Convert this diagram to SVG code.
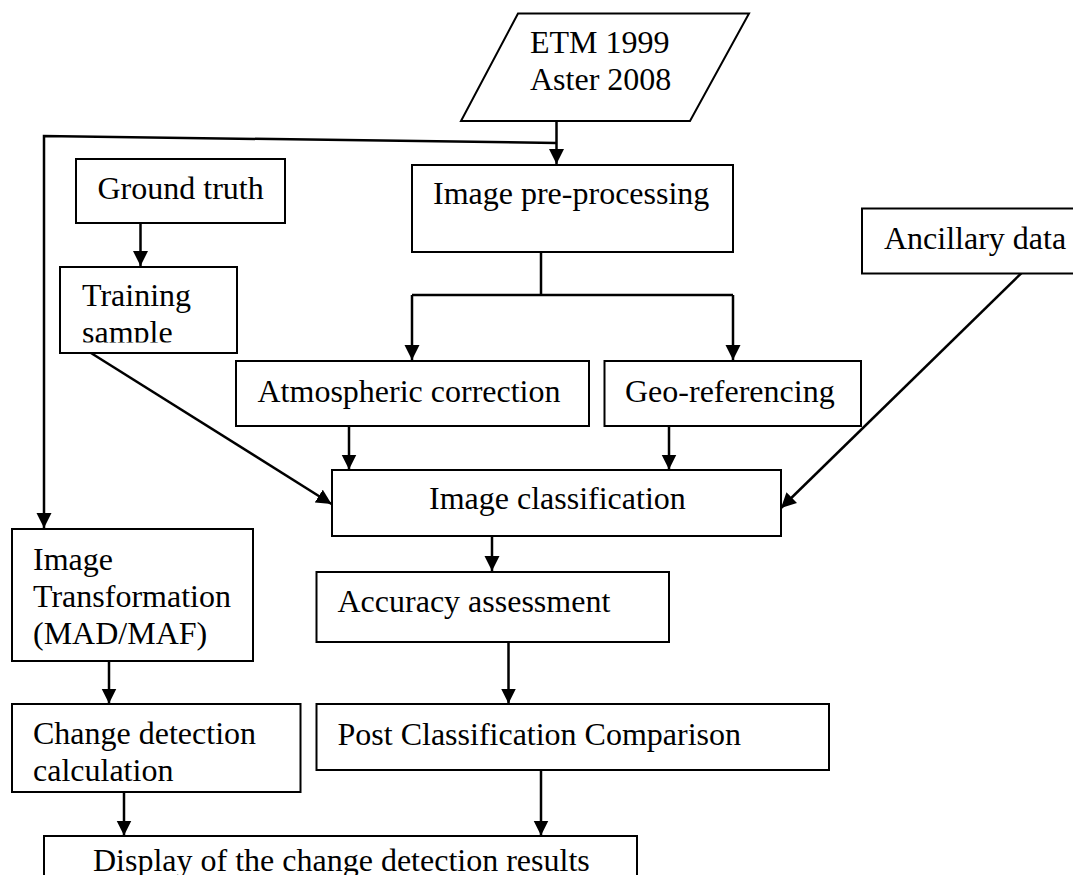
<svg xmlns="http://www.w3.org/2000/svg" width="1073" height="875" viewBox="0 0 1073 875">
<style>
.box{fill:#fff;stroke:#000;stroke-width:2}
.t{font-family:"Liberation Serif","Times New Roman",serif;font-size:32px;fill:#000}
.c{fill:none;stroke:#000;stroke-width:2.5}
</style>
<defs>
<marker id="ah" markerUnits="userSpaceOnUse" markerWidth="16" markerHeight="16" viewBox="0 0 16 16" refX="15" refY="8" orient="auto">
<path d="M0,0.5 L15,8 L0,15.5 Z" fill="#000"/>
</marker>
<clipPath id="tsclip"><rect x="61" y="268" width="175" height="74.5"/></clipPath>
</defs>
<rect width="1073" height="875" fill="#fff"/>
<g id="connectors">
<path class="c" d="M541,252 V295 M412,295 H733"/>
<path class="c" d="M556.5,121 V164" marker-end="url(#ah)"/>
<path class="c" d="M556.5,143 L44,136 V528" marker-end="url(#ah)"/>
<path class="c" d="M140.5,223 V266" marker-end="url(#ah)"/>
<path class="c" d="M412,295 V360" marker-end="url(#ah)"/>
<path class="c" d="M733,295 V360" marker-end="url(#ah)"/>
<path class="c" d="M349,426 V469.5" marker-end="url(#ah)"/>
<path class="c" d="M669,426 V469.5" marker-end="url(#ah)"/>
<path class="c" d="M91,353 L331.5,504" marker-end="url(#ah)"/>
<path class="c" d="M1021.5,273 L781,508" marker-end="url(#ah)"/>
<path class="c" d="M492,536 V571" marker-end="url(#ah)"/>
<path class="c" d="M508.5,635 V703.5" marker-end="url(#ah)"/>
<path class="c" d="M109,661 V703.5" marker-end="url(#ah)"/>
<path class="c" d="M124,792 V835.5" marker-end="url(#ah)"/>
<path class="c" d="M541,770 V835.5" marker-end="url(#ah)"/>
</g>
<g id="input">
<polygon class="box" points="518,13.5 749,13.5 690,121 461,121"/>
<text class="t" x="530" y="53">ETM 1999</text>
<text class="t" x="530" y="89.5">Aster 2008</text>
</g>
<g id="ground-truth">
<rect class="box" x="76" y="159" width="209" height="64"/>
<text class="t" x="97.5" y="199">Ground truth</text>
</g>
<g id="training-sample">
<rect class="box" x="60" y="267" width="177" height="86"/>
<g clip-path="url(#tsclip)">
<text class="t" x="82" y="306">Training</text>
<text class="t" x="82" y="343">sample</text>
</g>
</g>
<g id="pre-processing">
<rect class="box" x="412" y="165" width="321" height="87"/>
<text class="t" x="433" y="204">Image pre-processing</text>
</g>
<g id="ancillary">
<rect class="box" x="862" y="208.5" width="215" height="65"/>
<text class="t" x="884" y="249">Ancillary data</text>
</g>
<g id="atmospheric">
<rect class="box" x="236" y="361" width="353" height="65"/>
<text class="t" x="257.5" y="402">Atmospheric correction</text>
</g>
<g id="geo-referencing">
<rect class="box" x="604.5" y="361" width="256.5" height="65"/>
<text class="t" x="625" y="402">Geo-referencing</text>
</g>
<g id="classification">
<rect class="box" x="332" y="470" width="449" height="66"/>
<text class="t" x="429" y="509">Image classification</text>
</g>
<g id="accuracy">
<rect class="box" x="316.5" y="572" width="352.5" height="70"/>
<text class="t" x="337.5" y="612">Accuracy assessment</text>
</g>
<g id="post-classification">
<rect class="box" x="316.5" y="704" width="512.5" height="66"/>
<text class="t" x="337.5" y="744.5">Post Classification Comparison</text>
</g>
<g id="transformation">
<rect class="box" x="12" y="529" width="241" height="132"/>
<text class="t" x="33" y="569.5">Image</text>
<text class="t" x="33" y="606.5">Transformation</text>
<text class="t" x="33" y="643.5">(MAD/MAF)</text>
</g>
<g id="change-detection">
<rect class="box" x="12" y="704" width="288.5" height="88"/>
<text class="t" x="33" y="743.5">Change detection</text>
<text class="t" x="33" y="781">calculation</text>
</g>
<g id="display">
<rect class="box" x="44" y="836" width="593" height="60"/>
<text class="t" x="93" y="871">Display of the change detection results</text>
</g>
</svg>
